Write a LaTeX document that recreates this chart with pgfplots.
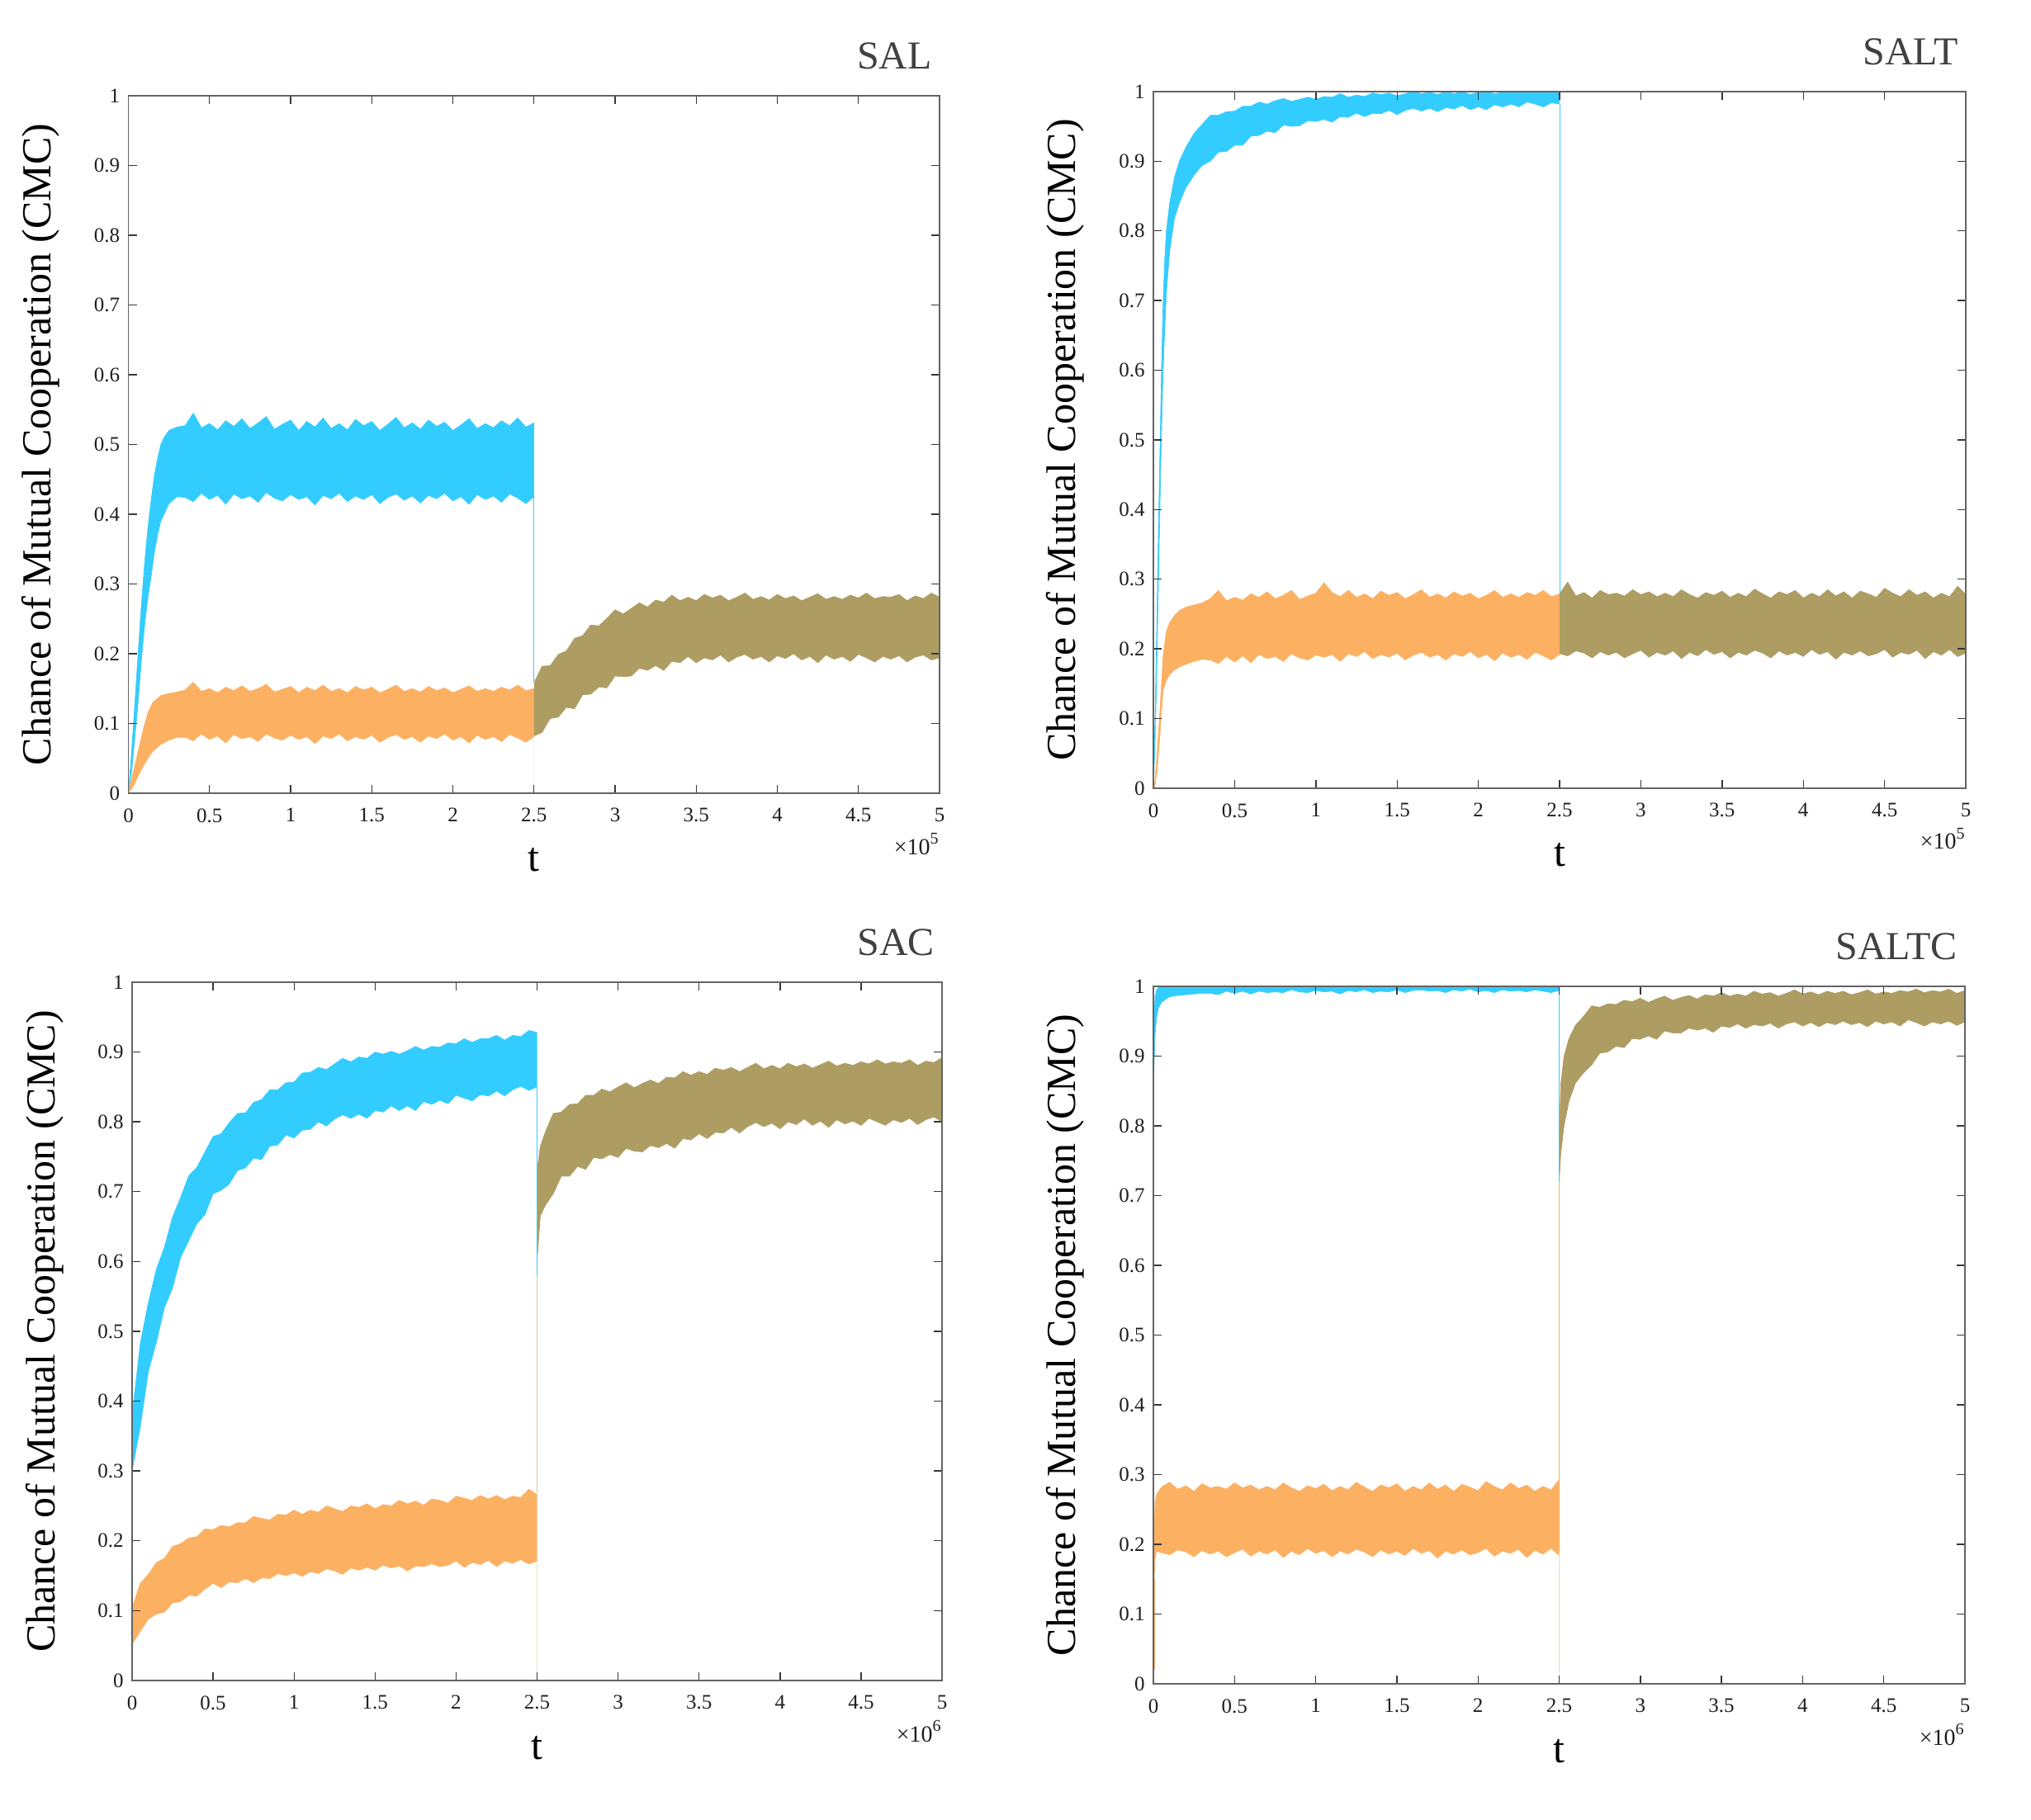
\documentclass[border=0pt]{standalone}
\usepackage{fontspec}
\setmainfont{Liberation Serif}
\usepackage{pgfplots}
\pgfplotsset{compat=1.18}
\usepackage{pgfplotstable}

\definecolor{cblue}{RGB}{51,204,255}
\definecolor{corange}{RGB}{252,176,98}
\definecolor{cbrown}{RGB}{173,157,99}
\definecolor{ctan}{RGB}{222,200,150}
\definecolor{axc}{RGB}{100,100,100}
\definecolor{tickc}{RGB}{55,55,55}
\definecolor{labc}{RGB}{30,30,30}
\definecolor{titc}{RGB}{64,64,64}

% ---------------- SAL ----------------
\pgfplotstableread{
x u l
0 0 0
0.02 0.06 0.03
0.04 0.13 0.08
0.06 0.20 0.13
0.08 0.27 0.19
0.10 0.33 0.24
0.12 0.38 0.28
0.14 0.42 0.31
0.16 0.455 0.345
0.18 0.48 0.37
0.20 0.50 0.39
0.22 0.51 0.40
0.25 0.52 0.415
0.30 0.525 0.425
0.35 .527 .424
0.40 .545 .418
0.45 .524 .430
0.50 .530 .421
0.55 .521 .427
0.60 .534 .414
0.65 .526 .429
0.70 .537 .422
0.75 .523 .426
0.80 .531 .417
0.85 .540 .431
0.90 .522 .423
0.95 .529 .419
1.00 .535 .428
1.05 .520 .421
1.10 .533 .425
1.15 .525 .413
1.20 .538 .427
1.25 .523 .422
1.30 .530 .430
1.35 .521 .418
1.40 .536 .426
1.45 .527 .421
1.50 .533 .428
1.55 .520 .415
1.60 .529 .424
1.65 .539 .429
1.70 .524 .420
1.75 .531 .426
1.80 .522 .416
1.85 .535 .427
1.90 .526 .422
1.95 .532 .430
2.00 .520 .419
2.05 .528 .425
2.10 .537 .414
2.15 .523 .428
2.20 .530 .421
2.25 .524 .426
2.30 .534 .417
2.35 .527 .429
2.40 .538 .423
2.45 .525 .415
2.50 .531 .425
}\salblue

\pgfplotstableread{
x u l
0 0 0
0.03 0.03 0.01
0.06 0.06 0.024
0.09 0.09 0.038
0.12 0.115 0.05
0.15 0.13 0.06
0.20 0.14 0.07
0.25 0.143 0.076
0.30 0.145 0.08
0.35 .148 .080
0.40 .159 .075
0.45 .146 .085
0.50 .150 .077
0.55 .144 .082
0.60 .152 .072
0.65 .147 .084
0.70 .154 .078
0.75 .146 .081
0.80 .150 .074
0.85 .156 .085
0.90 .145 .079
0.95 .149 .076
1.00 .153 .083
1.05 .144 .077
1.10 .152 .081
1.15 .147 .071
1.20 .155 .082
1.25 .146 .078
1.30 .150 .085
1.35 .144 .075
1.40 .153 .081
1.45 .148 .077
1.50 .152 .083
1.55 .144 .073
1.60 .149 .080
1.65 .155 .084
1.70 .146 .077
1.75 .150 .081
1.80 .145 .073
1.85 .153 .082
1.90 .147 .078
1.95 .151 .085
2.00 .144 .076
2.05 .149 .081
2.10 .154 .072
2.15 .146 .083
2.20 .150 .077
2.25 .146 .081
2.30 .152 .074
2.35 .148 .084
2.40 .155 .079
2.45 .147 .073
2.50 .150 .081
}\salorange

\pgfplotstableread{
x u l
2.50 .158 .082
2.55 .182 .087
2.60 .183 .107
2.65 .199 .109
2.70 .204 .123
2.75 .222 .121
2.80 .226 .141
2.85 .241 .142
2.90 .240 .152
2.95 .251 .151
3.00 .263 .168
3.05 .257 .167
3.10 .265 .168
3.15 .273 .179
3.20 .267 .176
3.25 .277 .183
3.30 .274 .176
3.35 .284 .189
3.40 .276 .187
3.45 .281 .196
3.50 .276 .187
3.55 .285 .194
3.60 .280 .191
3.65 .284 .198
3.70 .276 .188
3.75 .281 .195
3.80 .287 .199
3.85 .278 .192
3.90 .282 .196
3.95 .277 .188
4.00 .285 .197
4.05 .279 .193
4.10 .283 .200
4.15 .276 .191
4.20 .281 .196
4.25 .286 .187
4.30 .278 .198
4.35 .282 .192
4.40 .278 .196
4.45 .284 .189
4.50 .280 .199
4.55 .287 .194
4.60 .279 .188
4.65 .282 .196
4.70 .281 .192
4.75 .285 .197
4.80 .276 .188
4.85 .283 .195
4.90 .279 .198
4.95 .287 .191
5.00 .281 .194
}\salbrown

% ---------------- SALT ----------------
\pgfplotstableread{
x u l
0 0 0
0.01 0.10 0.06
0.02 0.22 0.16
0.03 0.36 0.28
0.04 0.48 0.40
0.05 0.60 0.51
0.06 0.70 0.60
0.07 0.76 0.66
0.08 0.80 0.71
0.10 0.84 0.77
0.13 0.877 0.818
0.16 0.90 0.84
0.20 0.92 0.862
0.25 0.94 0.88
0.30 .953 .894
0.35 .966 .900
0.40 .966 .913
0.45 .971 .914
0.50 .972 .923
0.55 .979 .923
0.60 .979 .936
0.65 .985 .937
0.70 .982 .943
0.75 .987 .941
0.80 .990 .952
0.85 .986 .950
0.90 .989 .951
0.95 .992 .958
1.00 .989 .957
1.05 .993 .960
1.10 .992 .956
1.15 .997 .964
1.20 .992 .963
1.25 .995 .969
1.30 .993 .964
1.35 .998 .969
1.40 .996 .968
1.45 .998 .973
1.50 .994 .967
1.55 .997 .973
1.60 1.000 .976
1.65 .997 .972
1.70 .999 .976
1.75 .996 .971
1.80 1.000 .977
1.85 .997 .975
1.90 1.000 .980
1.95 .996 .974
2.00 .999 .978
2.05 1.000 .974
2.10 .997 .981
2.15 .999 .978
2.20 .999 .982
2.25 1.000 .978
2.30 1.000 .985
2.35 1.000 .982
2.40 .999 .978
2.45 1.000 .984
2.50 1.000 .982
}\saltblue

\pgfplotstableread{
x u l
0 0 0
0.01 0.012 0.004
0.02 0.04 0.02
0.03 0.075 0.045
0.04 0.11 0.075
0.05 0.15 0.11
0.06 0.19 0.14
0.08 0.225 0.155
0.10 0.238 0.163
0.13 0.248 0.17
0.16 0.255 0.174
0.20 0.26 0.178
0.25 0.263 0.182
0.30 0.266 0.185
0.35 .272 .184
0.40 .284 .179
0.45 .269 .189
0.50 .274 .181
0.55 .270 .190
0.60 .279 .180
0.65 .274 .192
0.70 .282 .186
0.75 .272 .189
0.80 .277 .182
0.85 .284 .193
0.90 .271 .187
0.95 .276 .184
1.00 .280 .191
1.05 .295 .188
1.10 .281 .192
1.15 .275 .182
1.20 .284 .193
1.25 .274 .189
1.30 .279 .196
1.35 .272 .186
1.40 .283 .192
1.45 .277 .188
1.50 .281 .194
1.55 .272 .184
1.60 .278 .191
1.65 .285 .195
1.70 .274 .188
1.75 .279 .192
1.80 .273 .184
1.85 .282 .193
1.90 .276 .189
1.95 .280 .196
2.00 .272 .187
2.05 .277 .192
2.10 .284 .183
2.15 .274 .194
2.20 .279 .188
2.25 .274 .192
2.30 .281 .185
2.35 .277 .195
2.40 .284 .190
2.45 .275 .184
2.50 .279 .192
}\saltorange

\pgfplotstableread{
x u l
2.50 .279 .193
2.55 .296 .190
2.60 .276 .197
2.65 .281 .194
2.70 .273 .187
2.75 .284 .196
2.80 .278 .191
2.85 .280 .195
2.90 .276 .187
2.95 .285 .193
3.00 .278 .198
3.05 .282 .188
3.10 .275 .195
3.15 .280 .191
3.20 .275 .197
3.25 .285 .186
3.30 .278 .195
3.35 .273 .190
3.40 .281 .199
3.45 .277 .192
3.50 .283 .196
3.55 .274 .187
3.60 .280 .195
3.65 .275 .191
3.70 .286 .198
3.75 .279 .194
3.80 .273 .187
3.85 .282 .197
3.90 .278 .191
3.95 .284 .195
4.00 .273 .189
4.05 .280 .199
4.10 .275 .192
4.15 .285 .196
4.20 .276 .185
4.25 .282 .195
4.30 .273 .191
4.35 .283 .197
4.40 .279 .190
4.45 .274 .193
4.50 .287 .199
4.55 .280 .188
4.60 .275 .195
4.65 .285 .192
4.70 .277 .198
4.75 .282 .186
4.80 .273 .196
4.85 .280 .191
4.90 .275 .199
4.95 .290 .189
5.00 .278 .194
}\saltbrown

% ---------------- SAC ----------------
\pgfplotstableread{
x u l
0.00 .380 .300
0.05 .482 .362
0.10 .541 .442
0.15 .589 .484
0.20 .621 .534
0.25 .664 .562
0.30 .692 .606
0.35 .723 .630
0.40 .735 .654
0.45 .757 .667
0.50 .779 .697
0.55 .783 .702
0.60 .799 .711
0.65 .812 .730
0.70 .813 .734
0.75 .828 .748
0.80 .832 .746
0.85 .846 .765
0.90 .846 .767
0.95 .856 .781
1.00 .857 .777
1.05 .870 .788
1.10 .871 .789
1.15 .878 .800
1.20 .875 .794
1.25 .883 .804
1.30 .891 .810
1.35 .886 .805
1.40 .893 .811
1.45 .891 .805
1.50 .900 .816
1.55 .897 .814
1.60 .901 .823
1.65 .897 .816
1.70 .902 .823
1.75 .908 .816
1.80 .903 .829
1.85 .908 .825
1.90 .907 .831
1.95 .913 .826
2.00 .912 .838
2.05 .919 .834
2.10 .914 .830
2.15 .919 .839
2.20 .919 .837
2.25 .924 .844
2.30 .917 .837
2.35 .924 .846
2.40 .922 .851
2.45 .931 .845
2.50 .928 .850
}\sacblue

\pgfplotstableread{
x u l
0.00 .104 .052
0.05 .139 .070
0.10 .152 .088
0.15 .169 .095
0.20 .175 .098
0.25 .192 .111
0.30 .196 .113
0.35 .204 .122
0.40 .206 .121
0.45 .217 .131
0.50 .216 .139
0.55 .222 .133
0.60 .220 .141
0.65 .226 .140
0.70 .226 .146
0.75 .235 .140
0.80 .232 .147
0.85 .230 .146
0.90 .238 .153
0.95 .237 .150
1.00 .244 .154
1.05 .238 .149
1.10 .244 .156
1.15 .241 .153
1.20 .250 .160
1.25 .246 .157
1.30 .242 .152
1.35 .250 .161
1.40 .248 .158
1.45 .253 .162
1.50 .246 .158
1.55 .252 .165
1.60 .250 .161
1.65 .258 .164
1.70 .253 .157
1.75 .257 .164
1.80 .251 .163
1.85 .260 .167
1.90 .258 .163
1.95 .254 .165
2.00 .264 .171
2.05 .261 .162
2.10 .258 .169
2.15 .265 .166
2.20 .260 .172
2.25 .265 .163
2.30 .259 .171
2.35 .264 .168
2.40 .262 .173
2.45 .274 .167
2.50 .266 .171
}\sacorange

\pgfplotstableread{
x u l
2.50 .730 .600
2.52 .765 .665
2.55 .785 .680
2.60 .812 .697
2.65 .814 .722
2.70 .825 .722
2.75 .826 .736
2.80 .838 .732
2.85 .838 .749
2.90 .847 .747
2.95 .843 .753
3.00 .850 .749
3.05 .856 .762
3.10 .849 .758
3.15 .855 .757
3.20 .860 .766
3.25 .855 .763
3.30 .864 .769
3.35 .863 .762
3.40 .872 .776
3.45 .867 .774
3.50 .872 .783
3.55 .868 .776
3.60 .877 .785
3.65 .874 .784
3.70 .878 .792
3.75 .872 .784
3.80 .878 .793
3.85 .884 .799
3.90 .876 .793
3.95 .881 .798
4.00 .876 .790
4.05 .884 .800
4.10 .879 .796
4.15 .883 .804
4.20 .877 .795
4.25 .882 .801
4.30 .887 .792
4.35 .880 .803
4.40 .884 .797
4.45 .881 .801
4.50 .886 .795
4.55 .883 .805
4.60 .889 .800
4.65 .883 .795
4.70 .886 .803
4.75 .884 .799
4.80 .889 .805
4.85 .881 .796
4.90 .887 .803
4.95 .885 .807
5.00 .892 .800
}\sacbrown

% ---------------- SALTC ----------------
\pgfplotstableread{
x u l
0.00 .930 .850
0.01 .985 .930
0.02 .995 .955
0.03 .998 .968
0.05 1.0 .977
0.08 1.0 .982
0.10 1.0 .985
0.15 1.0 .987
0.20 1.0 .988
0.25 1.0 .989
0.30 1.0 .990
0.35 1.0 .990
0.40 1.0 .988
0.45 1.0 .993
0.50 1.0 .990
0.55 1.0 .993
0.60 1.0 .989
0.65 1.0 .993
0.70 1.0 .991
0.75 1.0 .992
0.80 1.0 .991
0.85 1.0 .995
0.90 1.0 .992
0.95 1.0 .991
1.00 1.0 .994
1.05 1.0 .992
1.10 1.0 .993
1.15 1.0 .989
1.20 1.0 .994
1.25 1.0 .992
1.30 1.0 .995
1.35 1.0 .991
1.40 1.0 .993
1.45 1.0 .992
1.50 1.0 .995
1.55 1.0 .991
1.60 1.0 .994
1.65 1.0 .995
1.70 1.0 .993
1.75 1.0 .994
1.80 1.0 .991
1.85 1.0 .995
1.90 1.0 .993
1.95 1.0 .996
2.00 1.0 .992
2.05 1.0 .994
2.10 1.0 .991
2.15 1.0 .995
2.20 1.0 .993
2.25 1.0 .994
2.30 1.0 .992
2.35 1.0 .995
2.40 1.0 .993
2.45 1.0 .991
2.50 1.0 .994
}\saltcblue

\pgfplotstableread{
x u l
0.00 .160 .120
0.01 .260 .180
0.02 .272 .190
0.05 .282 .188
0.10 .289 .185
0.15 .279 .192
0.20 .284 .189
0.25 .276 .182
0.30 .287 .191
0.35 .281 .186
0.40 .283 .190
0.45 .279 .182
0.50 .288 .188
0.55 .281 .193
0.60 .285 .183
0.65 .278 .190
0.70 .283 .186
0.75 .278 .192
0.80 .288 .181
0.85 .281 .190
0.90 .276 .185
0.95 .284 .194
1.00 .280 .187
1.05 .286 .191
1.10 .277 .182
1.15 .283 .190
1.20 .278 .186
1.25 .289 .193
1.30 .282 .189
1.35 .276 .182
1.40 .285 .192
1.45 .281 .186
1.50 .287 .190
1.55 .276 .184
1.60 .283 .194
1.65 .278 .187
1.70 .288 .191
1.75 .279 .180
1.80 .285 .190
1.85 .276 .186
1.90 .286 .192
1.95 .282 .185
2.00 .277 .188
2.05 .290 .194
2.10 .283 .183
2.15 .278 .190
2.20 .288 .187
2.25 .280 .193
2.30 .285 .181
2.35 .276 .191
2.40 .283 .186
2.45 .278 .194
2.50 .293 .184
}\saltcorange

\pgfplotstableread{
x u l
2.50 .780 .720
2.51 .860 .760
2.53 .900 .800
2.56 .925 .835
2.60 .944 .861
2.65 .957 .876
2.70 .972 .887
2.75 .970 .904
2.80 .975 .906
2.85 .974 .914
2.90 .980 .912
2.95 .978 .925
3.00 .983 .924
3.05 .977 .929
3.10 .982 .924
3.15 .986 .936
3.20 .980 .933
3.25 .984 .933
3.30 .987 .940
3.35 .982 .937
3.40 .988 .940
3.45 .986 .934
3.50 .991 .943
3.55 .986 .941
3.60 .989 .946
3.65 .986 .940
3.70 .993 .945
3.75 .989 .943
3.80 .991 .947
3.85 .986 .940
3.90 .990 .946
3.95 .995 .949
4.00 .989 .943
4.05 .992 .948
4.10 .988 .942
4.15 .993 .948
4.20 .990 .945
4.25 .993 .950
4.30 .988 .945
4.35 .991 .948
4.40 .995 .942
4.45 .989 .950
4.50 .992 .946
4.55 .990 .949
4.60 .994 .943
4.65 .992 .952
4.70 .996 .948
4.75 .991 .943
4.80 .994 .949
4.85 .992 .946
4.90 .996 .950
4.95 .990 .944
5.00 .994 .949
}\saltcbrown

\pgfplotsset{
  panel/.style={
    scale only axis,
    axis on top,
    clip mode=individual,
    xmin=0, xmax=5, ymin=0, ymax=1,
    axis line style={draw=axc, line width=0.7pt},
    tick align=inside,
    tick pos=both,
    major tick length=5pt,
    every tick/.style={draw=tickc, line width=0.7pt},
    xtick={0,0.5,1,1.5,2,2.5,3,3.5,4,4.5,5},
    xticklabels={0,0.5,1,1.5,2,2.5,3,3.5,4,4.5,5},
    ytick={0,0.1,0.2,0.3,0.4,0.5,0.6,0.7,0.8,0.9,1},
    yticklabels={0,0.1,0.2,0.3,0.4,0.5,0.6,0.7,0.8,0.9,1},
    tick label style={font=\fontsize{12.5}{15}\selectfont, text=labc},
    xticklabel style={anchor=north, inner sep=0pt, yshift=-9pt},
    yticklabel style={anchor=east, inner sep=0pt, xshift=-5pt},
    xlabel={t},
    ylabel={Chance of Mutual Cooperation (CMC)},
    label style={font=\fontsize{25}{30}\selectfont, text=black},
    xlabel style={at={(axis description cs:0.5,0)}, anchor=base, yshift=-47.5pt},
    ylabel style={at={(axis description cs:-0.0957,0.5)}, anchor=base},
    title style={at={(axis description cs:1,1)}, anchor=base east, yshift=10pt, xshift=-1pt,
      font=\fontsize{24}{28}\selectfont, text=titc},
  },
}

% band: fill under the upper edge, then blank out under the lower edge, then the ragged edges
\newcommand{\band}[2]{%
  \addplot[fill=#2, draw=none] table[x=x,y=u]{#1} \closedcycle;
  \addplot[fill=white, draw=none] table[x=x,y=l]{#1} \closedcycle;
  \addplot[#2, line width=0.3pt] table[x=x,y=u]{#1};
  \addplot[#2, line width=0.3pt] table[x=x,y=l]{#1};
}
\newcommand{\expo}[1]{%
  \node[anchor=base east, inner sep=0pt, font=\fontsize{14}{16}\selectfont, text=labc]
    at (axis description cs:0.999,-0.0876) {×10\raisebox{0.45em}{\fontsize{10}{12}\selectfont #1}};
}

\begin{document}
\begin{tikzpicture}
\path[use as bounding box] (0pt,0pt) rectangle (1230pt,1102pt);

% SAL
\begin{axis}[panel, at={(77.75pt,621.5pt)}, anchor=south west, width=491.25pt, height=422.5pt, title={SAL}]
  \band{\salblue}{cblue}
  \band{\salorange}{corange}
  \band{\salbrown}{cbrown}
  \addplot[cblue, line width=0.5pt] coordinates {(2.5,0.425) (2.5,0.16)};
  \expo{5}
\end{axis}

% SALT
\begin{axis}[panel, at={(698.5pt,624.5pt)}, anchor=south west, width=492pt, height=422pt, title={SALT}]
  \band{\saltblue}{cblue}
  \band{\saltorange}{corange}
  \band{\saltbrown}{cbrown}
  \addplot[cblue, line width=0.5pt] coordinates {(2.5,0.982) (2.5,0.28)};
  \expo{5}
\end{axis}

% SAC
\begin{axis}[panel, at={(80pt,84pt)}, anchor=south west, width=490.5pt, height=423pt, title={SAC}]
  \band{\sacblue}{cblue}
  \band{\sacorange}{corange}
  \band{\sacbrown}{cbrown}
  \addplot[corange, line width=0.5pt] coordinates {(0.004,0) (0.004,0.06)};
  \addplot[cblue, line width=0.5pt] coordinates {(0.004,0.06) (0.004,0.30)};
  \addplot[cblue, line width=0.5pt] coordinates {(2.5,0.85) (2.5,0.58)};
  \addplot[ctan, line width=0.5pt] coordinates {(2.5,0.27) (2.5,0.58)};
  \expo{6}
\end{axis}

% SALTC
\begin{axis}[panel, at={(698.5pt,82pt)}, anchor=south west, width=491.5pt, height=422.5pt, title={SALTC}]
  \band{\saltcblue}{cblue}
  \band{\saltcorange}{corange}
  \band{\saltcbrown}{cbrown}
  \addplot[cblue, line width=0.5pt] coordinates {(0.004,0) (0.004,0.86)};
  \addplot[corange, line width=0.5pt] coordinates {(0.008,0.02) (0.008,0.15)};
  \addplot[cblue, line width=0.5pt] coordinates {(2.5,0.994) (2.5,0.72)};
  \addplot[corange, line width=0.5pt] coordinates {(2.5,0.19) (2.5,0.72)};
  \expo{6}
\end{axis}
\end{tikzpicture}
\end{document}
